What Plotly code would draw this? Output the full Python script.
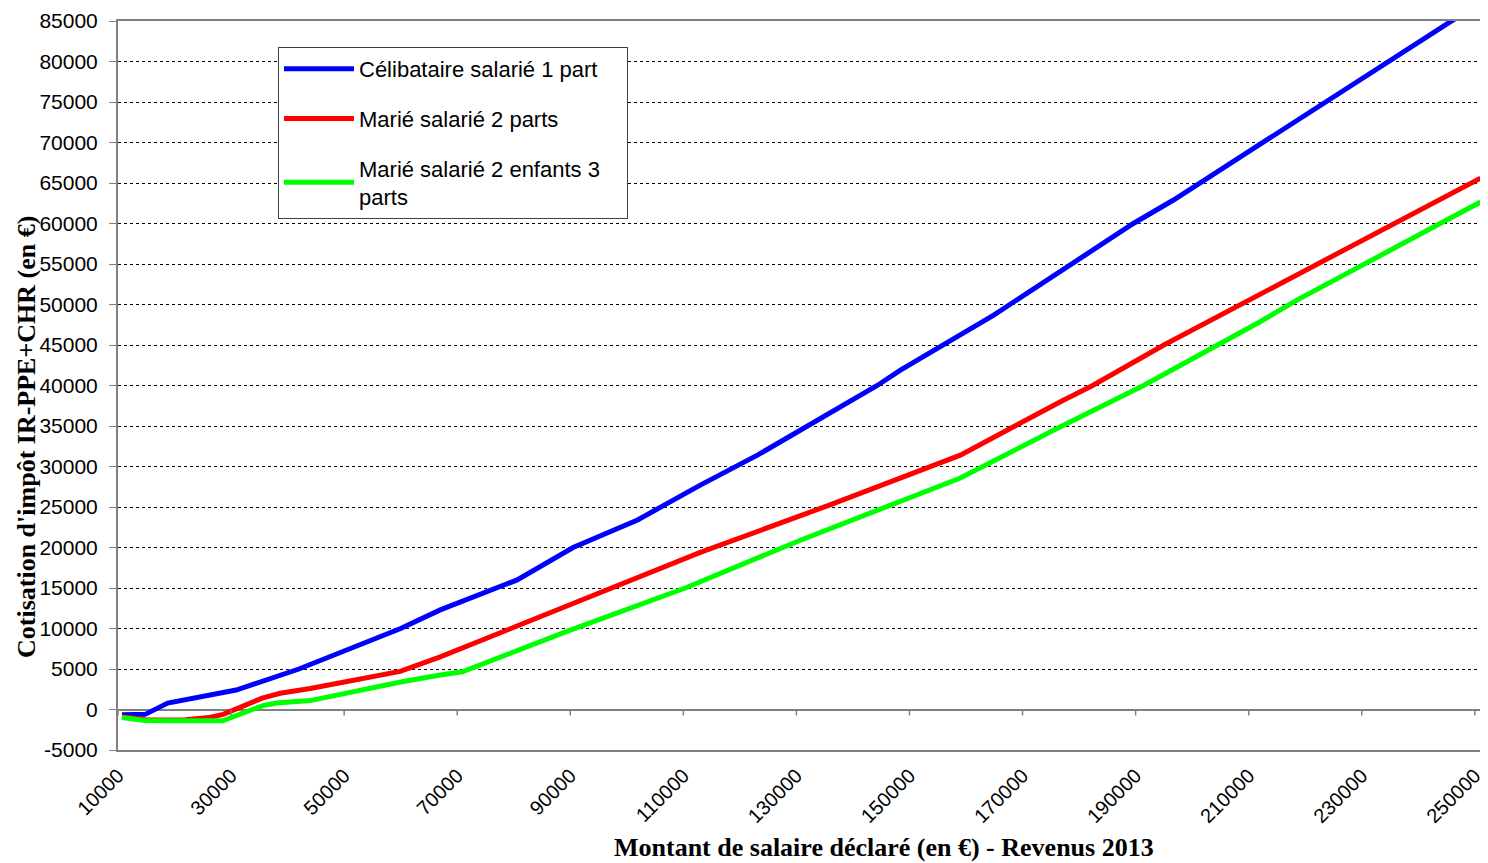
import plotly.graph_objects as go

# ---- data ----
x_celib = [10700, 14800, 18800, 30900, 42000, 60000, 67000, 80600, 90500, 101900,
           113000, 123100, 144300, 148400, 164900, 189600, 196700, 246100, 251000]
y_celib = [-650, -600, 800, 2400, 5000, 10000, 12300, 16000, 20000, 23400,
           27700, 31400, 40000, 41900, 48700, 60000, 62900, 85100, 87300]

x_marie2 = [10700, 14800, 18800, 22000, 26000, 28600, 35500, 38700, 44000, 50000,
            59900, 67000, 89600, 113000, 135700, 159000, 176700, 182400, 195000,
            210700, 242700, 251000]
y_marie2 = [-900, -1250, -1300, -1250, -1000, -600, 1400, 2000, 2600, 3400,
            4700, 6500, 12900, 19400, 25200, 31400, 38000, 40000, 45000,
            50800, 62500, 65600]

x_marie3 = [10700, 14800, 18800, 28500, 35500, 38000, 44000, 50000, 60000, 67000,
            70900, 90000, 110350, 130700, 159000, 176700, 191400, 212100, 218700,
            242700, 251000]
y_marie3 = [-1000, -1350, -1400, -1400, 450, 800, 1100, 2000, 3400, 4260,
            4650, 9800, 15000, 20900, 28580, 34900, 40000, 47900, 50600,
            59560, 62650]

series_names = ["Célibataire salarié 1 part\u00a0\u00a0\u00a0\u00a0",
                "Marié salarié 2 parts",
                "Marié salarié 2 enfants 3<br>parts"]
series_colors = ["#0000FF", "#FF0000", "#00FF00"]

x_tickvals = list(range(10000, 250001, 20000))
y_tickvals = list(range(-5000, 85001, 5000))

x_title = "Montant de salaire déclaré (en €) - Revenus 2013"
y_title = "Cotisation d'impôt IR-PPE+CHR (en €)"

# ---- figure ----
fig = go.Figure()
for i, (xs, ys) in enumerate([(x_celib, y_celib), (x_marie2, y_marie2), (x_marie3, y_marie3)]):
    fig.add_trace(go.Scatter(
        x=xs, y=ys, mode="lines", name=series_names[i], legendgroup=f"g{i}",
        line=dict(color=series_colors[i], width=5), cliponaxis=True))

sans = "Liberation Sans, Arial, sans-serif"
xtick_font = dict(family=sans, size=20, color="#000")
ytick_font = dict(family=sans, size=21, color="#000")
title_font = dict(family="Liberation Serif, serif", size=26, color="#000")

# the page body has an 8px margin: compensate so the plot lands where the reference's does
PLOT_L, PLOT_T, PLOT_R, PLOT_B = 118, 21, 1485, 750
OFF = 8
W, H = 1488 - OFF, 863 - OFF
pw, ph = PLOT_R - PLOT_L, PLOT_B - PLOT_T

fig.update_layout(
    width=W, height=H,
    margin=dict(l=PLOT_L - OFF, r=W - (PLOT_R - OFF), t=PLOT_T - OFF, b=H - (PLOT_B - OFF)),
    paper_bgcolor="white", plot_bgcolor="white",
    font=ytick_font,
    showlegend=True,
    legend=dict(
        x=(278 - PLOT_L) / pw, y=(PLOT_B - 47) / ph, xanchor="left", yanchor="top",
        bgcolor="white", bordercolor="#404040", borderwidth=1,
        font=dict(family=sans, size=22, color="#000"),
        traceorder="grouped", tracegroupgap=18, itemwidth=70,
    ),
    xaxis=dict(
        range=[10000, 251800], tickvals=x_tickvals, ticktext=[str(v) for v in x_tickvals],
        tickangle=-45, tickfont=xtick_font, ticks="", ticklabelstandoff=4,
        showgrid=False, zeroline=False, automargin=False,
        showline=True, linecolor="#808080", linewidth=2, mirror=True,
    ),
    yaxis=dict(
        range=[-5000, 85000], tickvals=y_tickvals, ticktext=[str(v) for v in y_tickvals],
        tickfont=ytick_font, ticks="outside", ticklen=7, tickcolor="#808080", tickwidth=1,
        ticklabelstandoff=7, automargin=False,
        showgrid=True, gridcolor="#000000", gridwidth=1, griddash="dot",
        zeroline=True, zerolinecolor="#808080", zerolinewidth=2,
        showline=True, linecolor="#808080", linewidth=2, mirror=True,
    ),
)

# tick marks on the zero line (category-axis style crossing at 0)
for v in x_tickvals:
    fig.add_shape(type="line", xref="x", yref="y", x0=v, x1=v,
                  ysizemode="pixel", yanchor=0, y0=0, y1=-6,
                  line=dict(color="#808080", width=1.5))

fig.add_annotation(text=f"<b>{x_title}</b>", xref="paper", yref="paper",
                   x=(884 - PLOT_L) / pw, y=-(847 - PLOT_B) / ph,
                   xanchor="center", yanchor="middle", showarrow=False, font=title_font)
fig.add_annotation(text=f"<b>{y_title}</b>", xref="paper", yref="paper",
                   x=-(PLOT_L - 26) / pw, y=(PLOT_B - 437) / ph, textangle=-90,
                   xanchor="center", yanchor="middle", showarrow=False, font=title_font)

fig.write_html("out.html")
